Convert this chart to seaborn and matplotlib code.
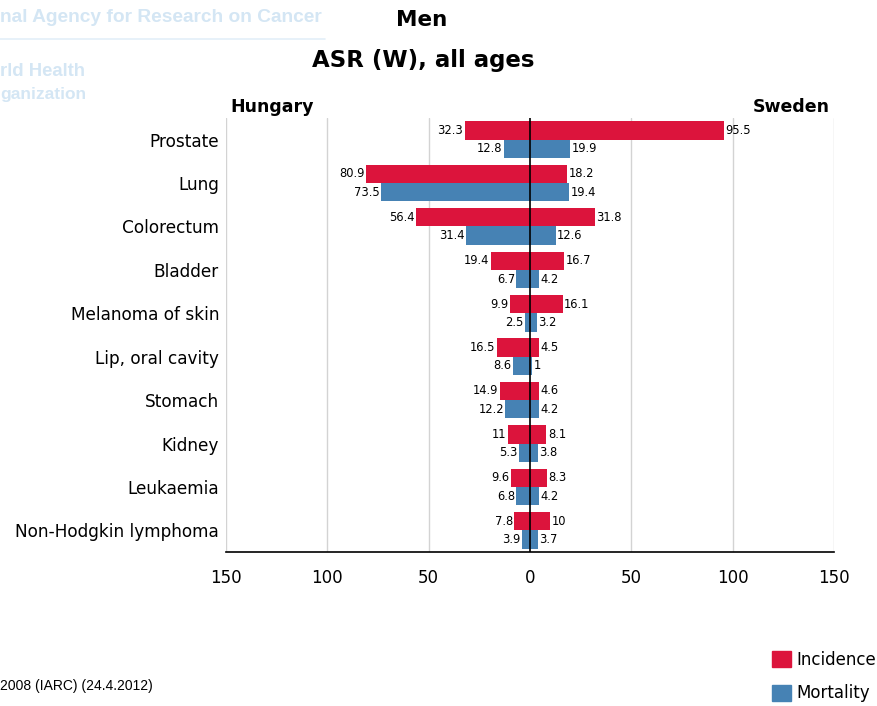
import pandas as pd
import matplotlib.pyplot as plt
import seaborn as sns

# ASR (W) per 100 000, men, all ages
cancers = ["Prostate", "Lung", "Colorectum", "Bladder", "Melanoma of skin",
           "Lip, oral cavity", "Stomach", "Kidney", "Leukaemia", "Non-Hodgkin lymphoma"]
hungary_incidence = [32.3, 80.9, 56.4, 19.4, 9.9, 16.5, 14.9, 11, 9.6, 7.8]
hungary_mortality = [12.8, 73.5, 31.4, 6.7, 2.5, 8.6, 12.2, 5.3, 6.8, 3.9]
sweden_incidence = [95.5, 18.2, 31.8, 16.7, 16.1, 4.5, 4.6, 8.1, 8.3, 10]
sweden_mortality = [19.9, 19.4, 12.6, 4.2, 3.2, 1, 4.2, 3.8, 4.2, 3.7]
ticks = [-150, -100, -50, 0, 50, 100, 150]

colors = {"Incidence": "#dc143c", "Mortality": "#4682b4"}

hu = pd.DataFrame({
    "cancer": cancers * 2,
    "value": [-v for v in hungary_incidence + hungary_mortality],
    "measure": ["Incidence"] * len(cancers) + ["Mortality"] * len(cancers),
})
se = pd.DataFrame({
    "cancer": cancers * 2,
    "value": sweden_incidence + sweden_mortality,
    "measure": ["Incidence"] * len(cancers) + ["Mortality"] * len(cancers),
})

sns.set_style("white")
plt.rcParams["font.family"] = ["DejaVu Sans"]
plt.rcParams["text.color"] = "black"
plt.rcParams["xtick.color"] = "black"
plt.rcParams["ytick.color"] = "black"

fig = plt.figure(figsize=(8.78, 7.06), dpi=100)
ax = fig.add_axes([0.2574, 0.2181, 0.6926, 0.6148])

sns.barplot(data=hu, y="cancer", x="value", hue="measure", orient="h",
            palette=colors, saturation=1, width=0.84, linewidth=0, ax=ax,
            legend=False)
sns.barplot(data=se, y="cancer", x="value", hue="measure", orient="h",
            palette=colors, saturation=1, width=0.84, linewidth=0, ax=ax,
            legend=False)

for cont in ax.containers:
    ax.bar_label(cont, labels=[f"{abs(b.get_width()):g}" for b in cont],
                 padding=1, fontsize=8.3, color="black")

ax.axvline(0, color="black", lw=1.2, zorder=3)
for t in ticks:
    if t != 0:
        ax.axvline(t, color="#d3d3d3", lw=1, zorder=0)

ax.set_xlim(-150, 150)
ax.set_xticks(ticks)
ax.set_xticklabels([str(abs(t)) for t in ticks], fontsize=12)
ax.tick_params(axis="x", direction="out", length=6, width=1, pad=6)
ax.tick_params(axis="y", length=0, labelsize=12.2, pad=5)
ax.set_xlabel("")
ax.set_ylabel("")
for s in ["top", "left", "right"]:
    ax.spines[s].set_visible(False)
ax.spines["bottom"].set_color("black")
ax.spines["bottom"].set_linewidth(1.2)

ax.text(0.007, 1.005, "Hungary", transform=ax.transAxes, fontsize=12.5,
        fontweight="bold", ha="left", va="bottom")
ax.text(0.993, 1.005, "Sweden", transform=ax.transAxes, fontsize=12.5,
        fontweight="bold", ha="right", va="bottom")

fig.text(422 / 878, 1 - 20 / 706, "Men", fontsize=15.5, fontweight="bold",
         ha="center", va="center")
fig.text(423 / 878, 1 - 60 / 706, "ASR (W), all ages", fontsize=16.5,
         fontweight="bold", ha="center", va="center")

# faded IARC / WHO watermark, as much of it as shows at the left edge
wm = "#d4e6f4"
fig.text(0.0, 1 - 17 / 706, "nal Agency for Research on Cancer",
         fontsize=13.8, fontweight="bold", color=wm, ha="left", va="center",
         family=["Liberation Sans", "DejaVu Sans"])
fig.add_artist(plt.Line2D([0, 325 / 878], [1 - 39 / 706, 1 - 39 / 706],
                          color="#e3eff8", lw=1.2, transform=fig.transFigure))
fig.text(0.0, 1 - 71 / 706, "rld Health", fontsize=13.3, fontweight="bold",
         color=wm, ha="left", va="center",
         family=["Liberation Sans", "DejaVu Sans"])
fig.text(0.0, 1 - 94 / 706, "ganization", fontsize=12.5, fontweight="bold",
         color=wm, ha="left", va="center",
         family=["Liberation Sans", "DejaVu Sans"])

fig.text(0.0, 1 - 686 / 706, "2008 (IARC) (24.4.2012)",
         fontsize=10, ha="left", va="center",
         family=["Liberation Sans", "DejaVu Sans"])

handles = [plt.Rectangle((0, 0), 1, 1, color=colors[m]) for m in colors]
fig.legend(handles, list(colors), loc="upper left",
           bbox_to_anchor=(760 / 878, 1 - 639 / 706), frameon=False,
           fontsize=12, handlelength=1.15, handleheight=1.15,
           handletextpad=0.35, labelspacing=0.95, borderpad=0.2)

fig.savefig("out.png", dpi=100)
